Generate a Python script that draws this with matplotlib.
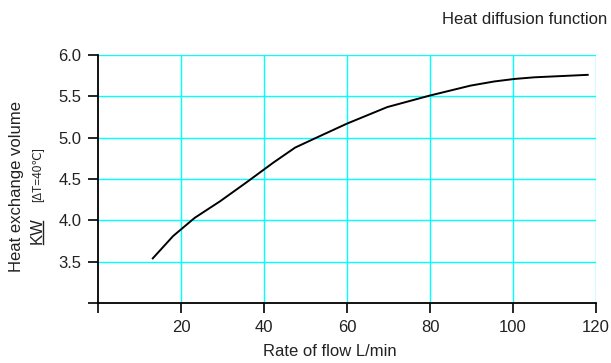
import matplotlib
matplotlib.use("Agg")
import matplotlib.pyplot as plt
from matplotlib.lines import Line2D

plt.rcParams["font.family"] = ["Liberation Sans", "DejaVu Sans"]

# curve
FLOW = [13.2, 18.1, 23.3, 29.4, 35.8, 42.3, 47.5, 53.5, 60.0, 69.7,
        80.0, 89.8, 95.5, 100.3, 105.1, 118.0]
HEAT = [3.54, 3.81, 4.03, 4.23, 4.46, 4.70, 4.88, 5.02, 5.17, 5.37,
        5.51, 5.63, 5.68, 5.71, 5.73, 5.76]

X_TICKS = [0, 20, 40, 60, 80, 100, 120]
X_LABELS = ["", "20", "40", "60", "80", "100", "120"]
Y_TICKS = [3.0, 3.5, 4.0, 4.5, 5.0, 5.5, 6.0]
Y_LABELS = ["", "3.5", "4.0", "4.5", "5.0", "5.5", "6.0"]

W, H = 611, 363
TXT = "#222222"
fig = plt.figure(figsize=(W / 100, H / 100), dpi=100)
ax = fig.add_axes([98 / W, 1 - 303 / H, (596 - 98) / W, (303 - 55) / H])


def fx(px):
    return px / W


def fy(py):
    return 1 - py / H


ax.plot(FLOW, HEAT, color="black", lw=1.4)
ax.set_xlim(0, 120)
ax.set_ylim(3.0, 6.0)
ax.set_xticks(X_TICKS, X_LABELS)
ax.set_yticks(Y_TICKS, Y_LABELS)

# cyan grid, skipping the axis lines themselves
for x in X_TICKS[1:]:
    ax.axvline(x, color="#00ffff", lw=1.0, zorder=0)
for y in Y_TICKS[1:]:
    ax.axhline(y, color="#00ffff", lw=1.0, zorder=0)

for side in ("top", "right"):
    ax.spines[side].set_visible(False)
for side in ("left", "bottom"):
    ax.spines[side].set_linewidth(1.3)
ax.tick_params(axis="both", length=7, width=1.2, labelsize=12, colors="black",
               labelcolor=TXT)
ax.tick_params(axis="y", pad=5)
ax.tick_params(axis="x", pad=5)

fig.text(fx(607), fy(20), "Heat diffusion function", ha="right", va="center",
         fontsize=12, color=TXT)
fig.text(fx(330), fy(352), "Rate of flow L/min", ha="center", va="center",
         fontsize=12, color=TXT)

fig.text(fx(17), fy(186), "Heat exchange volume", rotation=90, ha="center",
         va="center", fontsize=12, color=TXT)
fig.text(fx(37), fy(244), "KW", rotation=90, ha="center", va="bottom",
         fontsize=12, color=TXT)
fig.text(fx(38), fy(202), "[ΔT=40℃]", rotation=90, ha="center", va="bottom",
         fontsize=8.5, color=TXT)
fig.add_artist(Line2D([fx(43), fx(43)], [fy(221), fy(244)], color=TXT,
                      lw=1.0, transform=fig.transFigure))

fig.savefig("out.png", dpi=100)
